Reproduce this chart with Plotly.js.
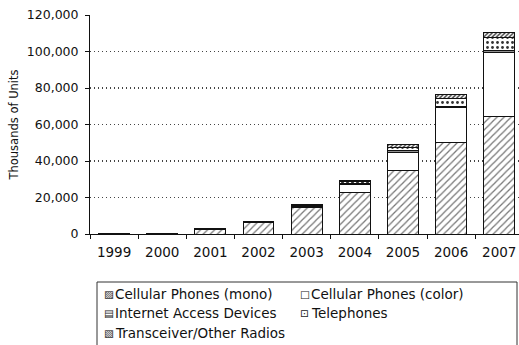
<!DOCTYPE html>
<html>
<head>
<meta charset="utf-8">
<script src="https://cdn.plot.ly/plotly-3.0.1.min.js"></script>
<style>
  html, body { margin: 0; padding: 0; background: #fff; }
  #chart { width: 519px; height: 345px; }
</style>
</head>
<body>
<div id="chart"></div>
<script>
// Unit shipments by product type, thousands of units
const years = ['1999', '2000', '2001', '2002', '2003', '2004', '2005', '2006', '2007'];
const cellMono    = [100, 400, 2600, 6200, 14500, 23000, 34800, 50300, 64500];
const cellColor   = [0, 0, 0, 300, 800, 4400, 10000, 18800, 35200];
const internetDev = [0, 0, 50, 100, 300, 500, 900, 1000, 1000];
const telephones  = [0, 50, 100, 150, 400, 700, 1800, 4000, 7000];
const transceiver = [50, 100, 200, 300, 400, 800, 1800, 2600, 2500];
const yTicks = [0, 20000, 40000, 60000, 80000, 100000, 120000];

const seriesNames = [
  'Cellular Phones (mono)',
  'Cellular Phones (color)',
  'Internet Access Devices',
  'Telephones',
  'Transceiver/Other Radios'
];
const legendGlyphs = ['\u25A8', '\u25A1', '\u25A4', '\u22A1', '\u25A7'];

const W = 519, H = 345;
const M = { l: 90, r: 0, t: 15, b: 111 };
const plotW = W - M.l - M.r, plotH = H - M.t - M.b;
const px = v => (v - M.l) / plotW;
const py = v => (H - M.b - v) / plotH;

const FONT = 'DejaVu Sans, Arial, sans-serif';
const outline = { color: '#111', width: 1 };

function barTrace(name, values, pattern) {
  return {
    type: 'bar',
    name: name,
    x: years,
    y: values,
    showlegend: false,
    hoverinfo: 'x+y+name',
    marker: { color: '#ffffff', line: outline, pattern: pattern }
  };
}

const data = [
  barTrace(seriesNames[0], cellMono,    { shape: '/', fgcolor: '#777', bgcolor: '#fff', size: 5, solidity: 0.25 }),
  barTrace(seriesNames[1], cellColor,   { shape: '', bgcolor: '#fff' }),
  barTrace(seriesNames[2], internetDev, { shape: '-', fgcolor: '#222', bgcolor: '#fff', size: 2, solidity: 0.6 }),
  barTrace(seriesNames[3], telephones,  { shape: '.', fgcolor: '#333', bgcolor: '#fff', size: 5, solidity: 0.25 }),
  barTrace(seriesNames[4], transceiver, { shape: '/', fgcolor: '#333', bgcolor: '#fff', size: 3, solidity: 0.45 })
];

// Legend: glyph swatch + label, two columns in a framed box below the axis
const legendCols = [102, 298];
const legendRows = [294, 313, 333];
const annotations = [];
seriesNames.forEach((name, i) => {
  const col = legendCols[i % 2];
  const row = legendRows[Math.floor(i / 2)];
  annotations.push({
    xref: 'paper', yref: 'paper', x: px(col), y: py(row),
    xanchor: 'left', yanchor: 'middle', showarrow: false,
    text: legendGlyphs[i], font: { family: FONT, size: 10.5, color: '#222' }
  });
  annotations.push({
    xref: 'paper', yref: 'paper', x: px(col + 11), y: py(row),
    xanchor: 'left', yanchor: 'middle', showarrow: false,
    text: name, font: { family: FONT, size: 13.5, color: '#111' }
  });
});

const layout = {
  width: W, height: H,
  margin: M,
  paper_bgcolor: '#fff',
  plot_bgcolor: '#fff',
  barmode: 'stack',
  bargap: 0.36,
  font: { family: FONT, size: 12.5, color: '#111' },
  xaxis: {
    type: 'category',
    range: [-0.5, 8.41],
    showline: true, linecolor: '#111', linewidth: 1,
    ticks: 'outside', tickson: 'boundaries', ticklen: 4, tickcolor: '#111',
    showgrid: false,
    ticklabelstandoff: 6,
    tickfont: { family: FONT, size: 13.5, color: '#111' }
  },
  yaxis: {
    range: [0, 120000],
    tickvals: yTicks,
    tickformat: ',d',
    showline: true, linecolor: '#111', linewidth: 1,
    ticks: 'outside', ticklen: 4, tickcolor: '#111',
    showgrid: true, gridcolor: '#444', gridwidth: 1.2, griddash: '1px,3px',
    zeroline: false,
    ticklabelstandoff: 4,
    automargin: true,
    tickfont: { family: FONT, size: 12.5, color: '#111' },
    title: { text: 'Thousands of Units', standoff: 5, font: { family: FONT, size: 11.5, color: '#111' } }
  },
  shapes: [{
    type: 'rect', xref: 'paper', yref: 'paper',
    x0: px(97), x1: px(517), y0: py(282), y1: py(352),
    line: { color: '#333', width: 1 }, fillcolor: 'rgba(0,0,0,0)'
  }],
  annotations: annotations
};

Plotly.newPlot('chart', data, layout, { displayModeBar: false, staticPlot: true });
</script>
</body>
</html>
